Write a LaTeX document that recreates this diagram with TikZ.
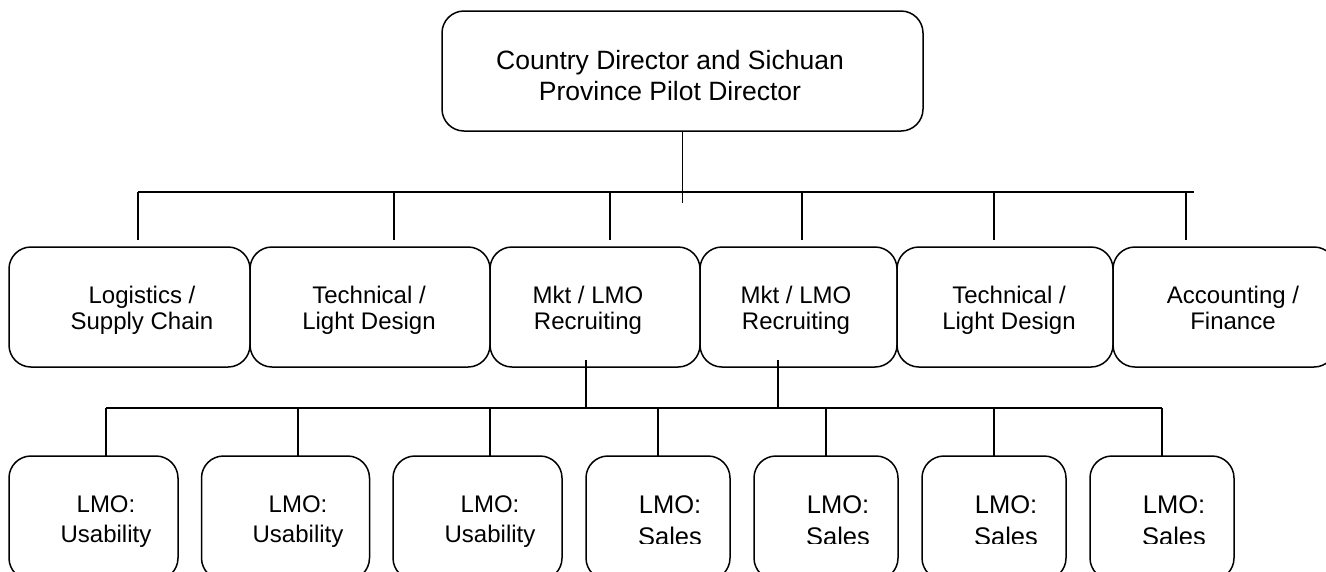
\documentclass[tikz,border=0pt]{standalone}
\usepackage{fontspec}
\setmainfont{Liberation Sans}
\newcommand\twolines[2]{\begin{tabular}[t]{@{}c@{}}#1\\#2\end{tabular}}
\begin{document}
\begin{tikzpicture}[x=1pt,y=-1pt,line width=1.5pt,
  box/.style={draw,rounded corners=22pt,inner sep=0pt,outer sep=0pt},
  toptxt/.style={inner sep=0pt,anchor=base,font=\fontsize{26.5}{31}\selectfont},
  midtxt/.style={inner sep=0pt,anchor=base,font=\fontsize{24}{26}\selectfont},
  usetxt/.style={inner sep=0pt,anchor=base,font=\fontsize{24}{30}\selectfont},
  saltxt/.style={inner sep=0pt,anchor=base,font=\fontsize{25.5}{32}\selectfont}]
\useasboundingbox (0,0) rectangle (1326,571);
\clip (0,0) rectangle (1326,571);

% top box
\node[box,minimum width=481pt,minimum height=120pt] (top) at (682.5,71) {};
\node[toptxt] (toplbl) at (670,69) {\twolines{Country Director and Sichuan}{Province Pilot Director}};

% second row boxes
\begin{scope}[every node/.append style={minimum height=120pt}]
\node[box,minimum width=241pt] (b1) at (129.5,307) {};
\node[box,minimum width=240pt] (b2) at (370,307) {};
\node[box,minimum width=210pt] (b3) at (595,307) {};
\node[box,minimum width=197pt] (b4) at (798.5,307) {};
\node[box,minimum width=216pt] (b5) at (1005,307) {};
\node[box,minimum width=223pt] (b6) at (1224.5,307) {};
\end{scope}
\node[midtxt] (t1) at (142,303) {\twolines{Logistics /}{Supply Chain}};
\node[midtxt] (t2) at (369,303) {\twolines{Technical /}{Light Design}};
\node[midtxt] (t3) at (588,303) {\twolines{Mkt / LMO}{Recruiting}};
\node[midtxt] (t4) at (796,303) {\twolines{Mkt / LMO}{Recruiting}};
\node[midtxt] (t5) at (1009,303) {\twolines{Technical /}{Light Design}};
\node[midtxt] (t6) at (1233,303) {\twolines{Accounting /}{Finance}};

% third row boxes
\begin{scope}[every node/.append style={minimum height=124pt}]
\node[box,minimum width=169pt] (c1) at (93.5,518) {};
\node[box,minimum width=168pt] (c2) at (285.5,518) {};
\node[box,minimum width=169pt] (c3) at (477.5,518) {};
\node[box,minimum width=144pt] (c4) at (658,518) {};
\node[box,minimum width=144pt] (c5) at (826,518) {};
\node[box,minimum width=144pt] (c6) at (994,518) {};
\node[box,minimum width=144pt] (c7) at (1162,518) {};
\end{scope}
\begin{scope}
\clip (0,0) rectangle (1326,548);
\node[usetxt] (s1) at (106,512) {\twolines{LMO:}{Usability}};
\node[usetxt] (s2) at (298,512) {\twolines{LMO:}{Usability}};
\node[usetxt] (s3) at (490,512) {\twolines{LMO:}{Usability}};
\end{scope}
\begin{scope}
\clip (0,0) rectangle (1326,543);
\node[saltxt] (s4) at (670,513) {\twolines{LMO:}{Sales}};
\node[saltxt] (s5) at (838,513) {\twolines{LMO:}{Sales}};
\node[saltxt] (s6) at (1006,513) {\twolines{LMO:}{Sales}};
\node[saltxt] (s7) at (1174,513) {\twolines{LMO:}{Sales}};
\end{scope}

% connectors: top to second row
\coordinate (tend) at (682.5,203);
\coordinate (busL) at (138,192);
\coordinate (busR) at (1194,192);
\draw (top.south) -- (tend);
\draw (busL) -- (busR);
\foreach \x/\b in {138/b1,394/b2,610/b3,802/b4,994/b5,1186/b6}{
  \coordinate (dtop) at (\x,192);
  \draw (dtop) -- ([yshift=7pt]dtop |- \b.north);
}

% connectors: second row to third row
\coordinate (u3) at (586,360);
\coordinate (u4) at (778,360);
\coordinate (bus2L) at (106,408);
\coordinate (bus2R) at (1162,408);
\draw (u3) -- (u3 |- bus2L);
\draw (u4) -- (u4 |- bus2L);
\draw (bus2L) -- (bus2R);
\foreach \c in {c1,c2,c3}{
  \draw ([xshift=12.5pt]\c.north |- bus2L) -- ([xshift=12.5pt]\c.north);
}
\foreach \c in {c4,c5,c6,c7}{
  \draw (\c.north |- bus2L) -- (\c.north);
}
\end{tikzpicture}
\end{document}
